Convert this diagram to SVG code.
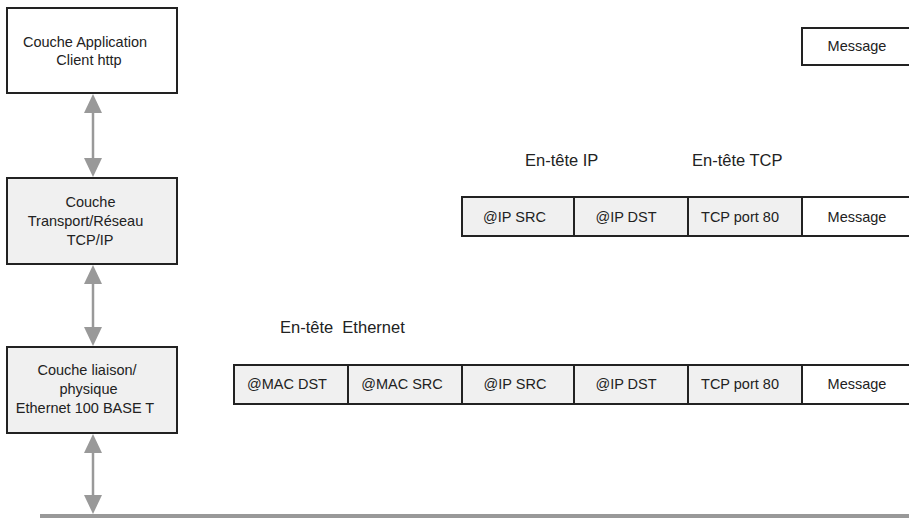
<svg xmlns="http://www.w3.org/2000/svg" width="909" height="518" viewBox="0 0 909 518">
<defs>
<style>
text{font-family:"Liberation Sans",Arial,sans-serif;font-size:14.5px;fill:#222;text-anchor:middle}
.lbl{font-size:16.5px;text-anchor:start;white-space:pre}
.box{stroke:#222;stroke-width:2}
.w{fill:#fff}
.g{fill:#f0f0f0}
.cl{stroke:#999;stroke-width:2.5}
.ah{fill:#999}
</style>
</defs>
<g id="n_app"><rect class="box w" x="7" y="8" width="170" height="85"/><text x="85" y="47">Couche Application</text><text x="89" y="65">Client http</text></g>
<g id="n_transport"><rect class="box g" x="7" y="178" width="170" height="86"/><text x="90.5" y="207">Couche</text><text x="85.5" y="226">Transport/Réseau</text><text x="90" y="245">TCP/IP</text></g>
<g id="n_liaison"><rect class="box g" x="7" y="347" width="170" height="86"/><text x="87" y="375">Couche liaison/</text><text x="88.5" y="394">physique</text><text x="85" y="413">Ethernet 100 BASE T</text></g>
<g id="connectors">
<line class="cl" x1="93" y1="100" x2="93" y2="172"/>
<path class="ah" d="M93,94 L84,113 L102,113 z"/><path class="ah" d="M93,177 L84,158 L102,158 z"/>
<line class="cl" x1="93" y1="270" x2="93" y2="340"/>
<path class="ah" d="M93,265 L84,284 L102,284 z"/><path class="ah" d="M93,346 L84,327 L102,327 z"/>
<line class="cl" x1="93" y1="440" x2="93" y2="508"/>
<path class="ah" d="M93,434 L84,453 L102,453 z"/><path class="ah" d="M93,514 L84,495 L102,495 z"/>
</g>
<g id="bus"><rect x="40" y="514" width="869" height="4" fill="#999"/></g>
<g id="msg_app"><rect class="box w" x="802" y="28" width="120" height="37"/><text x="857" y="51">Message</text></g>
<g id="labels"><text class="lbl" x="525" y="166">En-tête IP</text><text class="lbl" x="692" y="166">En-tête TCP</text><text class="lbl" x="280" y="333" xml:space="preserve">En-tête  Ethernet</text></g>
<g id="pkt_ip">
<rect class="box g" x="462" y="197" width="112" height="39"/><text x="514.5" y="222">@IP SRC</text>
<rect class="box g" x="574" y="197" width="114" height="39"/><text x="626" y="222">@IP DST</text>
<rect class="box g" x="688" y="197" width="114" height="39"/><text x="740" y="222">TCP port 80</text>
<rect class="box w" x="802" y="197" width="120" height="39"/><text x="857" y="222">Message</text>
</g>
<g id="pkt_eth">
<rect class="box g" x="234" y="365" width="114" height="39"/><text x="287" y="389">@MAC DST</text>
<rect class="box g" x="348" y="365" width="114" height="39"/><text x="402" y="389">@MAC SRC</text>
<rect class="box g" x="462" y="365" width="112" height="39"/><text x="515" y="389">@IP SRC</text>
<rect class="box g" x="574" y="365" width="114" height="39"/><text x="626" y="389">@IP DST</text>
<rect class="box g" x="688" y="365" width="114" height="39"/><text x="740" y="389">TCP port 80</text>
<rect class="box w" x="802" y="365" width="120" height="39"/><text x="857" y="389">Message</text>
</g>
</svg>
